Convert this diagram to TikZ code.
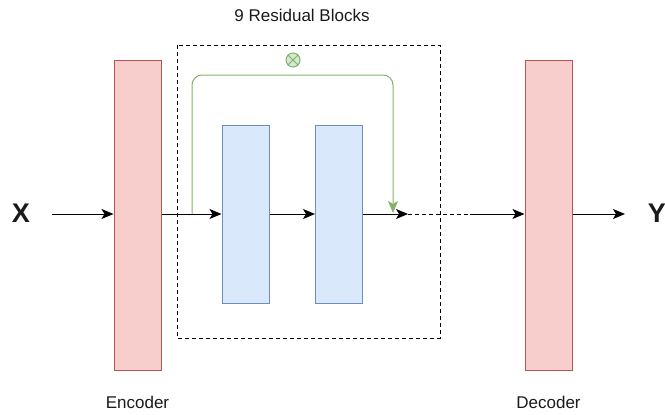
\documentclass[tikz,border=0pt]{standalone}
\usepackage{fontspec}
\setmainfont{Liberation Sans}
\usetikzlibrary{arrows.meta}
\definecolor{pinkfill}{HTML}{F8CECC}
\definecolor{pinkline}{HTML}{B85450}
\definecolor{bluefill}{HTML}{DAE8FC}
\definecolor{blueline}{HTML}{6C8EBF}
\definecolor{greenline}{HTML}{82B366}
\definecolor{greenfill}{HTML}{D5E8D4}
\definecolor{txt}{HTML}{1A1A1A}
\tikzset{
  codec/.style={draw=pinkline, fill=pinkfill, line width=1pt, minimum width=47pt, minimum height=310pt, inner sep=0pt},
  resblk/.style={draw=blueline, fill=bluefill, line width=1pt, minimum width=47pt, minimum height=178pt, inner sep=0pt},
  conn/.style={line width=1pt, -{Stealth[length=12pt,width=10pt,inset=3pt]}},
  skip/.style={draw=greenline, line width=1pt, rounded corners=10pt, -{Stealth[length=12pt,width=10pt,inset=3pt]}},
  lbl/.style={font=\fontsize{17}{19}\selectfont, text=txt},
  io/.style={font=\fontsize{27}{29}\selectfont\bfseries, text=txt, inner sep=0pt}
}
\begin{document}
\begin{tikzpicture}[x=1pt,y=-1pt]
\useasboundingbox (0,0) rectangle (665,415);
\draw[dashed, line width=1pt, dash pattern=on 4pt off 3pt] (177,45) rectangle (440,338);
\node[codec] (enc) at (137.5,215) {};
\node[codec] (dec) at (548.5,215) {};
\node[resblk] (b1) at (245.5,214) {};
\node[resblk] (b2) at (339,214) {};
\node[io] (x) at (21,213) {X};
\node[io] (y) at (657,213) {Y};
\coordinate (xs) at (52,214);
\coordinate (split) at (192,214);
\coordinate (merge) at (408,214);
\coordinate (dashend) at (470,214);
\coordinate (gl) at (192,75);
\coordinate (gr) at (393,75);
\coordinate (gend) at (393,213);
\coordinate (ye) at (625,214);
\node[lbl] (t1) at (302,15) {9 Residual Blocks};
\node[lbl] (t2) at (137.5,402) {Encoder};
\node[lbl] (t3) at (548.5,402) {Decoder};
\draw[conn] (xs) -- (enc.west |- xs);
\draw[conn] (enc.east |- split) -- (b1.west |- split);
\draw[conn] (b1.east |- merge) -- (b2.west |- merge);
\draw[conn] (b2.east |- merge) -- (merge);
\draw[line width=1pt, dashed, dash pattern=on 4pt off 3pt] (merge) -- (dashend);
\draw[conn] (dashend) -- (dec.west |- dashend);
\draw[conn] (dec.east |- ye) -- (ye);
\draw[skip] (split) -- (gl) -- (gr) -- (gend);
\node[circle, draw=greenline, fill=greenfill, line width=1pt, minimum size=14pt, inner sep=0pt] (mul) at (293,60) {};
\draw[greenline, line width=1pt] (mul.45) -- (mul.225) (mul.135) -- (mul.315);
\end{tikzpicture}
\end{document}
